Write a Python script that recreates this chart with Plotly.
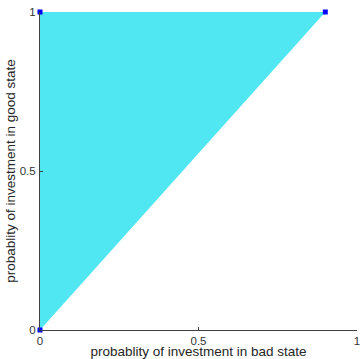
import plotly.graph_objects as go

# triangle region vertices
region_x = [0, 0, 0.9, 0]
region_y = [0, 1, 1, 0]
# marked points
pts_x = [0, 0.9, 0]
pts_y = [1, 1, 0]

tick_vals = [0, 0.5, 1]
tick_text = ["0", "0.5", "1"]

FONT = "Liberation Sans, Arial"

fig = go.Figure()
fig.add_trace(go.Scatter(x=region_x, y=region_y, mode="lines", fill="toself",
                         fillcolor="#50E6F2", line=dict(width=0, color="#50E6F2"),
                         hoverinfo="skip", showlegend=False))
fig.add_trace(go.Scatter(x=pts_x, y=pts_y, mode="markers",
                         marker=dict(symbol="square", size=5, color="#0000FF"),
                         showlegend=False, cliponaxis=False))

axis_common = dict(range=[0, 1], showgrid=False, zeroline=False, showline=True,
                   linecolor="#404040", linewidth=1, ticks="inside", ticklen=3,
                   tickcolor="#404040", tickvals=tick_vals, ticktext=tick_text,
                   tickfont=dict(family=FONT, size=11.5, color="#333333"),
                   ticklabeloverflow="allow",
                   fixedrange=True, automargin=False)

fig.update_layout(
    width=360, height=359,
    margin=dict(l=40, r=3, t=12, b=29),
    paper_bgcolor="white", plot_bgcolor="white",
    xaxis=dict(**axis_common, ticklabelstandoff=0,
               title=dict(text="probablity of investment in bad state",
                          font=dict(family=FONT, size=13.5, color="#262626"),
                          standoff=0)),
    yaxis=dict(**axis_common, ticklabelstandoff=1,
               title=dict(text="probablity of investment in good state",
                          font=dict(family=FONT, size=13.5, color="#262626"),
                          standoff=0)),
)
fig.write_html("out.html", config={"displayModeBar": False},
               post_script="document.body.style.margin='0';")
